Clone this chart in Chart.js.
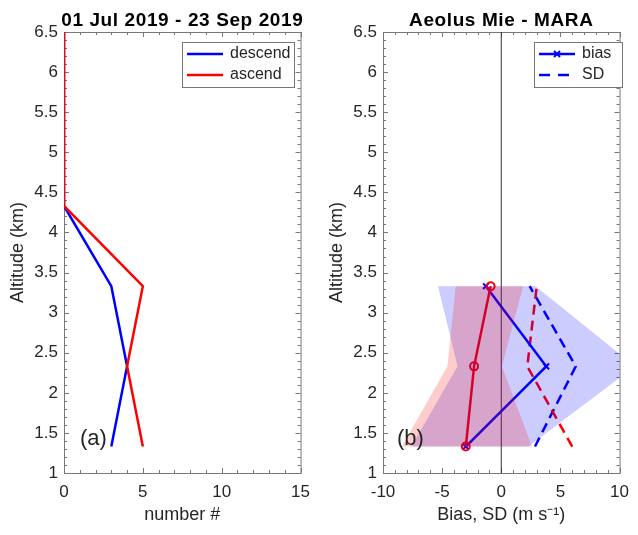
<!DOCTYPE html>
<html>
<head>
<meta charset="utf-8">
<script src="https://cdn.jsdelivr.net/npm/chart.js@4"></script>
<style>
body { margin: 0; background: #fff; }
canvas { position: absolute; top: 0; }
</style>
</head>
<body>
<canvas id="left" width="319" height="535" style="left:0"></canvas>
<canvas id="right" width="319" height="535" style="left:319px"></canvas>
<script>
// panel (a): number of profiles per altitude bin
const altCount = [1.33, 2.33, 3.33, 4.33, 5.33, 6.33, 7.33];
const descendCount = [3, 4, 3, 0, 0, 0, 0];
const ascendCount = [5, 4, 5, 0, 0, 0, 0];

// panel (b): Aeolus Mie - MARA
const altBias = [1.33, 2.33, 3.33];
const biasDescend = [-3.0, 3.8, -1.3];
const biasAscend = [-3.0, -2.3, -0.9];
const sdDescend = [2.85, 6.3, 2.4];
const sdAscend = [6.0, 2.2, 3.0];
const shadeDescendLo = [-7.6, -3.7, -5.35];
const shadeDescendHi = [2.3, 11.3, 2.9];
const shadeAscendLo = [-8.4, -4.55, -3.85];
const shadeAscendHi = [2.6, 0.05, 1.85];

const BLUE = '#0000ff';
const RED = '#ff0000';
const FONT = '"Liberation Sans", Arial, sans-serif';

Chart.defaults.font.family = FONT;
Chart.defaults.color = '#262626';

function pts(xs, ys) {
    return xs.map((v, i) => ({x: v, y: ys[i]}));
}

function shape(lo, hi) {
    const p = pts(lo, altBias);
    for (let i = altBias.length - 1; i >= 0; i--) p.push({x: hi[i], y: altBias[i]});
    p.push(p[0]);
    return p;
}

// box, inward ticks, title, panel letter and legend
const frame = {
    id: 'frame',
    beforeDatasetsDraw(chart, args, o) {
        const {ctx, chartArea: a, scales: {x, y}} = chart;
        ctx.save();
        ctx.strokeStyle = '#777';
        ctx.lineWidth = 1;
        ctx.strokeRect(a.left + 0.5, a.top + 0.5, a.right - a.left, a.bottom - a.top);
        ctx.beginPath();
        const nx = Math.round((x.max - x.min) / o.xMinor);
        for (let i = 0; i <= nx; i++) {
            const v = x.min + i * o.xMinor;
            const px = Math.round(x.getPixelForValue(v)) + 0.5;
            const len = i % o.xEvery == 0 ? 5 : 3;
            ctx.moveTo(px, a.bottom); ctx.lineTo(px, a.bottom - len);
            ctx.moveTo(px, a.top); ctx.lineTo(px, a.top + len);
        }
        const ny = Math.round((y.max - y.min) / 0.1);
        for (let i = 0; i <= ny; i++) {
            const v = y.min + i * 0.1;
            const py = Math.round(y.getPixelForValue(v)) + 0.5;
            const len = i % 5 == 0 ? 5 : 3;
            ctx.moveTo(a.left, py); ctx.lineTo(a.left + len, py);
            ctx.moveTo(a.right, py); ctx.lineTo(a.right - len, py);
        }
        ctx.stroke();
        ctx.restore();
    },
    afterDraw(chart, args, o) {
        const {ctx, chartArea: a} = chart;
        ctx.save();
        ctx.fillStyle = '#000';
        ctx.font = 'bold 19px ' + FONT;
        ctx.textAlign = 'center';
        ctx.letterSpacing = '0.6px';
        ctx.fillText(o.title, (a.left + a.right) / 2, 26);
        ctx.letterSpacing = '0px';

        ctx.fillStyle = '#262626';
        ctx.textAlign = 'left';
        ctx.font = '22px ' + FONT;
        ctx.fillText(o.panel, a.left + o.panelDx, 445);

        const L = o.legend;
        ctx.fillStyle = '#fff';
        ctx.fillRect(L.x, L.y, L.w, L.h);
        ctx.strokeStyle = '#777';
        ctx.lineWidth = 1;
        ctx.strokeRect(L.x + 0.5, L.y + 0.5, L.w, L.h);
        ctx.font = '16px ' + FONT;
        ctx.textBaseline = 'middle';
        L.items.forEach((it, i) => {
            const yy = L.y + 12 + i * 21;
            ctx.strokeStyle = it.color;
            ctx.lineWidth = 2.5;
            ctx.setLineDash(it.dash || []);
            ctx.beginPath();
            ctx.moveTo(L.x + 5, yy);
            ctx.lineTo(L.x + 41, yy);
            ctx.stroke();
            ctx.setLineDash([]);
            if (it.marker) {
                const cx = L.x + 23;
                ctx.lineWidth = 2;
                ctx.beginPath();
                ctx.moveTo(cx - 3, yy - 3); ctx.lineTo(cx + 3, yy + 3);
                ctx.moveTo(cx - 3, yy + 3); ctx.lineTo(cx + 3, yy - 3);
                ctx.stroke();
            }
            ctx.fillStyle = '#262626';
            ctx.fillText(it.text, L.x + 48, yy);
        });
        ctx.restore();
    }
};

function scales(xmin, xmax, xtitle) {
    return {
        x: {
            type: 'linear', min: xmin, max: xmax,
            ticks: {stepSize: 5, font: {size: 17}, padding: 9, maxRotation: 0},
            grid: {display: false, drawTicks: false},
            border: {display: false},
            title: {display: true, text: xtitle, font: {size: 18}, padding: {top: 0, bottom: 9}},
            afterFit(s) { s.height = 62; }
        },
        y: {
            type: 'linear', min: 1, max: 6.5,
            ticks: {stepSize: 0.5, font: {size: 17}, padding: 6,
                callback: (v) => String(Math.round(v * 10) / 10)},
            grid: {display: false, drawTicks: false},
            border: {display: false},
            title: {display: true, text: 'Altitude (km)', font: {size: 18}, padding: {top: 7, bottom: 0}},
            afterFit(s) { s.width = 64; }
        }
    };
}

const common = {
    responsive: false,
    animation: false,
    layout: {padding: {top: 32, right: 13, left: 0, bottom: 0}},
    elements: {line: {tension: 0}}
};

new Chart(document.getElementById('left').getContext('2d'), {
    type: 'line',
    data: {
        datasets: [{
            label: 'ascend',
            data: pts(ascendCount, altCount),
            borderColor: RED, borderWidth: 2.5, pointRadius: 0, order: 0
        }, {
            label: 'descend',
            data: pts(descendCount, altCount),
            borderColor: BLUE, borderWidth: 2.5, pointRadius: 0, order: 1
        }]
    },
    options: Object.assign({}, common, {
        scales: scales(0, 15, 'number #'),
        plugins: {
            legend: {display: false},
            tooltip: {enabled: false},
            frame: {
                title: '01 Jul 2019 - 23 Sep 2019', panel: '(a)', panelDx: 16,
                xMinor: 1, xEvery: 5,
                legend: {x: 182, y: 42, w: 112, h: 45, items: [
                    {text: 'descend', color: BLUE},
                    {text: 'ascend', color: RED}
                ]}
            }
        }
    }),
    plugins: [frame]
});

new Chart(document.getElementById('right').getContext('2d'), {
    type: 'line',
    data: {
        datasets: [{
            label: 'ascend spread',
            data: shape(shadeAscendLo, shadeAscendHi),
            borderColor: 'transparent', borderWidth: 0, pointRadius: 0,
            backgroundColor: 'rgba(255,0,0,0.2)', fill: 'shape', order: 0
        }, {
            label: 'descend spread',
            data: shape(shadeDescendLo, shadeDescendHi),
            borderColor: 'transparent', borderWidth: 0, pointRadius: 0,
            backgroundColor: 'rgba(0,0,255,0.2)', fill: 'shape', order: 1
        }, {
            label: 'bias ascend',
            data: pts(biasAscend, altBias),
            borderColor: RED, borderWidth: 2.5,
            pointStyle: 'circle', pointRadius: 4, pointBorderWidth: 2,
            pointBorderColor: RED, pointBackgroundColor: 'transparent', order: 2
        }, {
            label: 'bias',
            data: pts(biasDescend, altBias),
            borderColor: BLUE, borderWidth: 2.5,
            pointStyle: 'crossRot', pointRadius: 4, pointBorderWidth: 2,
            pointBorderColor: BLUE, order: 3
        }, {
            label: 'SD ascend',
            data: pts(sdAscend, altBias),
            borderColor: RED, borderWidth: 2.5, borderDash: [10, 6], pointRadius: 0, order: 4
        }, {
            label: 'SD',
            data: pts(sdDescend, altBias),
            borderColor: BLUE, borderWidth: 2.5, borderDash: [10, 6], pointRadius: 0, order: 5
        }, {
            label: 'zero',
            data: [{x: 0, y: 1}, {x: 0, y: 6.5}],
            borderColor: '#333', borderWidth: 1, pointRadius: 0, order: 6
        }]
    },
    options: Object.assign({}, common, {
        scales: scales(-10, 10, 'Bias, SD (m s\u207B\u00B9)'),
        plugins: {
            legend: {display: false},
            tooltip: {enabled: false},
            frame: {
                title: 'Aeolus Mie - MARA', panel: '(b)', panelDx: 14,
                xMinor: 1, xEvery: 5,
                legend: {x: 215, y: 42, w: 88, h: 45, items: [
                    {text: 'bias', color: BLUE, marker: true},
                    {text: 'SD', color: BLUE, dash: [11, 8]}
                ]}
            }
        }
    }),
    plugins: [frame]
});
</script>
</body>
</html>
